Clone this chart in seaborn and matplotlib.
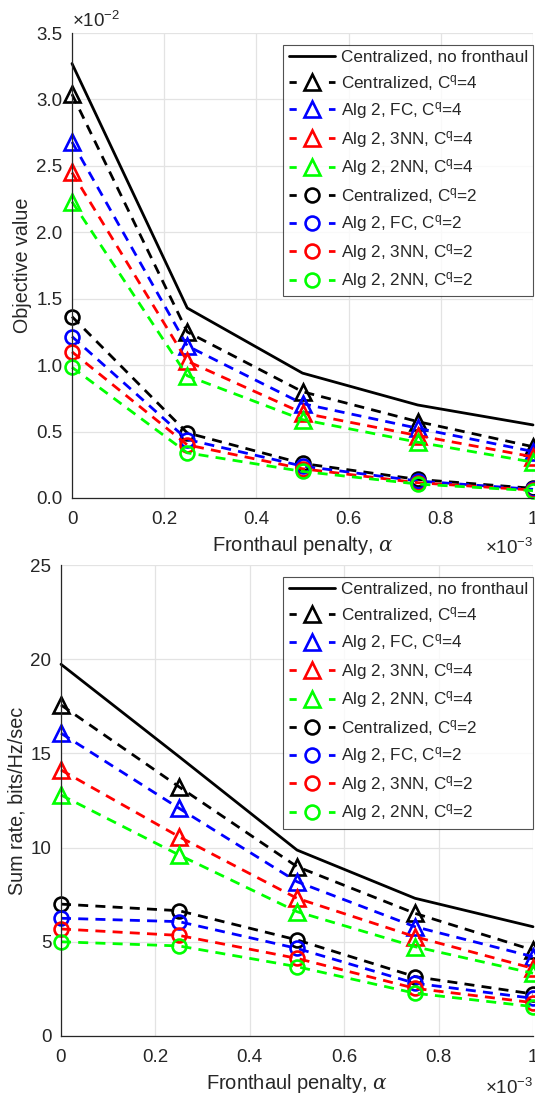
import numpy as np
import pandas as pd
import matplotlib
matplotlib.use("Agg")
import matplotlib.pyplot as plt
import seaborn as sns

# ---------------- data ----------------
alpha = [0, 0.25, 0.5, 0.75, 1.0]  # x 1e-3

labels = ["Centralized, no fronthaul",
          "Centralized, C$^{\\mathrm{q}}$=4",
          "Alg 2, FC, C$^{\\mathrm{q}}$=4",
          "Alg 2, 3NN, C$^{\\mathrm{q}}$=4",
          "Alg 2, 2NN, C$^{\\mathrm{q}}$=4",
          "Centralized, C$^{\\mathrm{q}}$=2",
          "Alg 2, FC, C$^{\\mathrm{q}}$=2",
          "Alg 2, 3NN, C$^{\\mathrm{q}}$=2",
          "Alg 2, 2NN, C$^{\\mathrm{q}}$=2"]

# Objective value (x 1e-2)
obj_central = [3.27, 1.43, 0.94, 0.70, 0.55]
obj_cent_q4 = [3.04, 1.25, 0.80, 0.575, 0.386]
obj_fc_q4 = [2.68, 1.145, 0.71, 0.525, 0.35]
obj_3nn_q4 = [2.45, 1.03, 0.64, 0.47, 0.31]
obj_2nn_q4 = [2.23, 0.92, 0.59, 0.42, 0.27]
obj_cent_q2 = [1.365, 0.49, 0.26, 0.14, 0.073]
obj_fc_q2 = [1.215, 0.44, 0.24, 0.128, 0.065]
obj_3nn_q2 = [1.10, 0.40, 0.22, 0.115, 0.06]
obj_2nn_q2 = [0.984, 0.34, 0.20, 0.105, 0.055]

# Sum rate (bits/Hz/sec)
sr_central = [19.73, 14.83, 9.87, 7.31, 5.80]
sr_cent_q4 = [17.57, 13.23, 8.99, 6.51, 4.56]
sr_fc_q4 = [16.07, 12.09, 8.19, 5.80, 4.21]
sr_3nn_q4 = [14.12, 10.58, 7.31, 5.27, 3.59]
sr_2nn_q4 = [12.79, 9.61, 6.60, 4.74, 3.33]
sr_cent_q2 = [7.00, 6.65, 5.10, 3.15, 2.23]
sr_fc_q2 = [6.25, 6.07, 4.65, 2.80, 2.00]
sr_3nn_q2 = [5.68, 5.34, 4.12, 2.53, 1.77]
sr_2nn_q2 = [5.00, 4.78, 3.68, 2.27, 1.56]

x_ticks = [0, 0.2, 0.4, 0.6, 0.8, 1.0]
x_ticklabels = ["0", "0.2", "0.4", "0.6", "0.8", "1"]
obj_yticks = [0, 0.5, 1.0, 1.5, 2.0, 2.5, 3.0, 3.5]
obj_yticklabels = ["0.0", "0.5", "1.0", "1.5", "2.0", "2.5", "3.0", "3.5"]
sr_yticks = [0, 5, 10, 15, 20, 25]

colors = ["black", "black", "#0000ff", "#ff0000", "#00ff00",
          "black", "#0000ff", "#ff0000", "#00ff00"]
markers = [None, "^", "^", "^", "^", "o", "o", "o", "o"]
styles = ["-", "--", "--", "--", "--", "--", "--", "--", "--"]

obj_series = [obj_central, obj_cent_q4, obj_fc_q4, obj_3nn_q4, obj_2nn_q4,
              obj_cent_q2, obj_fc_q2, obj_3nn_q2, obj_2nn_q2]
sr_series = [sr_central, sr_cent_q4, sr_fc_q4, sr_3nn_q4, sr_2nn_q4,
             sr_cent_q2, sr_fc_q2, sr_3nn_q2, sr_2nn_q2]

# ---------------- style ----------------
sns.set_style("white")
plt.rcParams['font.family'] = ['Liberation Sans', 'DejaVu Sans']
plt.rcParams['mathtext.fontset'] = 'custom'
plt.rcParams['mathtext.rm'] = 'Liberation Sans'
plt.rcParams['mathtext.it'] = 'DejaVu Serif:italic'
plt.rcParams['mathtext.sf'] = 'Liberation Sans'

fig = plt.figure(figsize=(5.35, 11.04), dpi=100)
ax1 = fig.add_axes([72/535, (1104-498)/1104, (533-72)/535, (498-33)/1104])
ax2 = fig.add_axes([61/535, (1104-1036)/1104, (533-61)/535, (1036-565)/1104])

axcol = "#262626"
LW = 2.0


def draw(ax, series, ylim, yticks, yticklabels, ylabel, ylabelpad):
    for s, lab, c, m, ls in zip(series, labels, colors, markers, styles):
        df = pd.DataFrame({"x": alpha, "y": s})
        kw = dict(marker=m, markersize=(11 if m == "^" else 10),
                  markerfacecolor="none",
                  markeredgecolor=c, markeredgewidth=1.9) if m else {}
        sns.lineplot(data=df, x="x", y="y", ax=ax, color=c, linestyle=ls,
                     linewidth=LW, label=lab, clip_on=False, **kw)
    for line in ax.get_lines():
        if line.get_linestyle() == "--":
            line.set_dashes([3.6, 2.6])
    ax.set_xlim(0, 1)
    ax.set_ylim(*ylim)
    ax.set_xticks(x_ticks)
    ax.set_xticklabels(x_ticklabels)
    ax.set_yticks(yticks)
    ax.set_yticklabels(yticklabels)
    ax.grid(True, color="#e3e3e3", linewidth=0.9)
    ax.set_axisbelow(True)
    for sp in ["top", "right"]:
        ax.spines[sp].set_visible(False)
    for sp in ["left", "bottom"]:
        ax.spines[sp].set_color(axcol)
        ax.spines[sp].set_linewidth(0.9)
    ax.tick_params(axis="x", direction="in", length=4, width=0.8, colors=axcol,
                   labelsize=13.5, pad=9)
    ax.tick_params(axis="y", direction="in", length=4, width=0.8, colors=axcol,
                   labelsize=13.5, pad=7)
    ax.set_xlabel("Fronthaul penalty, $\\alpha$", fontsize=14.5, color=axcol,
                  labelpad=5)
    ax.set_ylabel(ylabel, fontsize=14.2, color=axcol, labelpad=ylabelpad)
    leg = ax.legend(loc="upper right", bbox_to_anchor=(1.0, 1 - 12/465),
                    fontsize=12.3, frameon=True,
                    fancybox=False, edgecolor="#262626", handlelength=2.75,
                    handletextpad=0.3, labelspacing=0.44, borderpad=0.3,
                    borderaxespad=0.0)
    leg.get_frame().set_linewidth(0.8)
    for hl in leg.get_lines():
        if hl.get_linestyle() == "--":
            hl.set_dashes([2.6, 11.6])


draw(ax1, obj_series, (0, 3.5), obj_yticks, obj_yticklabels,
     "Objective value", 3)
draw(ax2, sr_series, (0, 25), sr_yticks, [str(t) for t in sr_yticks],
     "Sum rate, bits/Hz/sec", 3)

ax1.text(0.0, 1.005, "$\\times$10$^{\\mathrm{-2}}$", transform=ax1.transAxes,
         ha="left", va="bottom", fontsize=13.5, color=axcol)
ax1.text(1.0, -50/465, "$\\times$10$^{\\mathrm{-3}}$", transform=ax1.transAxes,
         ha="right", va="center", fontsize=13.5, color=axcol)
ax2.text(1.0, -52/471, "$\\times$10$^{\\mathrm{-3}}$", transform=ax2.transAxes,
         ha="right", va="center", fontsize=13.5, color=axcol)

fig.savefig("out.png", dpi=100)
